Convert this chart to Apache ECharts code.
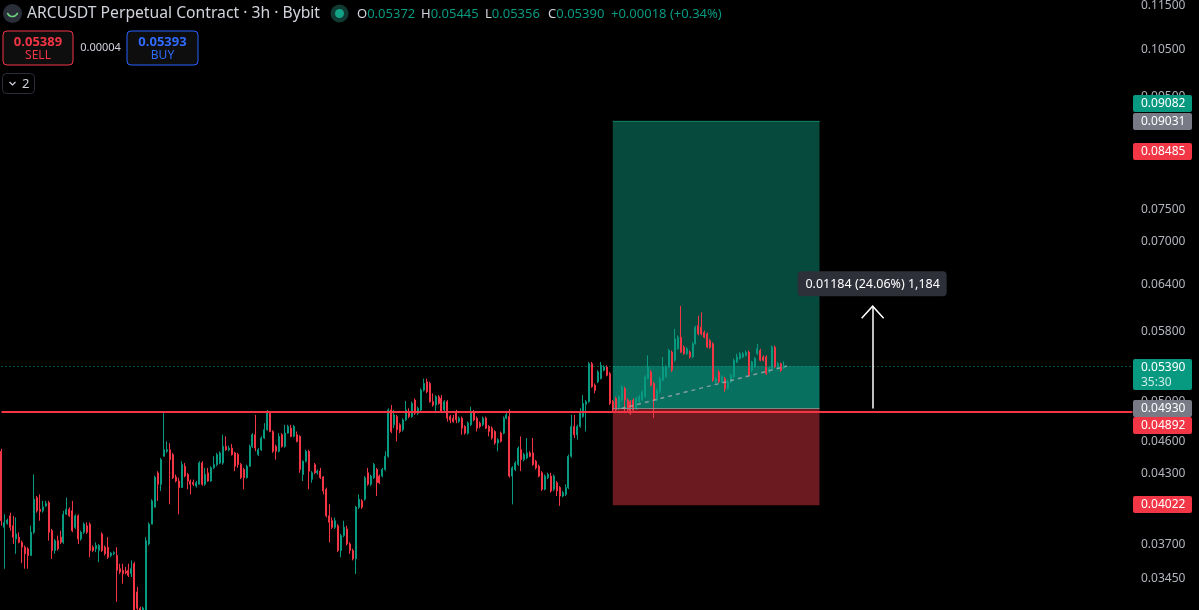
<!DOCTYPE html>
<html>
<head>
<meta charset="utf-8">
<script src="https://cdn.jsdelivr.net/npm/echarts@6/dist/echarts.min.js"></script>
<style>
html,body{margin:0;padding:0;background:#000;}
#main{width:1199px;height:610px;}
</style>
</head>
<body>
<div id="main"></div>
<script>
// ---- data (3h candles, ARCUSDT) ----
const openP = [
.04505,.03839,.03872,.03933,.03852,.03747,.03760,.03720,.03682,.03669,
.03618,.03799,.04087,.03988,.03975,.04016,.04044,.03812,.03656,.03733,
.03760,.03720,.03946,.03988,.03975,.03839,.03933,.03746,.03799,.03852,
.03865,.03682,.03669,.03656,.03786,.03682,.03682,.03618,.03631,.03618,
.03519,.03507,.03500,.03507,.03482,.03556,.03351,.03237,.03215,.03226,
.03707,.03865,.04005,.04305,.04203,.04458,.04505,.04520,.04474,.04268,
.04232,.04174,.04366,.04291,.04232,.04220,.04188,.04203,.04396,.04203,
.04305,.04232,.04351,.04381,.04396,.04396,.04552,.04520,.04536,.04490,
.04474,.04381,.04336,.04262,.04366,.04552,.04665,.04474,.04520,.04633,
.04714,.04881,.04697,.04552,.04505,.04665,.04552,.04681,.04730,.04649,
.04665,.04649,.04291,.04412,.04505,.04247,.04381,.04306,.04321,.04268,
.04159,.03933,.03893,.03839,.03852,.03656,.03773,.03826,.03707,.03656,
.03592,.04005,.04059,.04073,.04306,.04203,.04262,.04336,.04276,.04276,
.04336,.04458,.04915,.04764,.04847,.04764,.04714,.04813,.04898,.04847,
.05018,.04881,.04915,.05124,.05214,.05196,.05001,.04966,.05053,.05036,
.04915,.05001,.04847,.04830,.04898,.04796,.04830,.04747,.04681,.04764,
.04898,.04830,.04780,.04764,.04830,.04747,.04730,.04697,.04584,.04681,
.04681,.04830,.04847,.04276,.04336,.04381,.04520,.04427,.04443,.04490,
.04490,.04412,.04366,.04306,.04159,.04262,.04276,.04159,.04217,.04174,
.04101,.04115,.04174,.04458,.04747,.04665,.04747,.04847,.04974,.05001,
.05418,.05178,.05214,.05250,.05343,.05380,.05305,.05001,.05036,.04932,
.05018,.05142,.05018,.05001,.05018,.04932,.05001,.05018,.05053,.05250,
.05324,.05196,.05018,.05106,.05232,.05269,.05380,.05551,.05456,.05590,
.05728,.05609,.05532,.05551,.05494,.05648,.05869,.05849,.05788,.05768,
.05688,.05648,.05214,.05324,.05214,.05250,.05142,.05214,.05269,.05437,
.05475,.05494,.05513,.05551,.05343,.05380,.05532,.05570,.05494,.05494,
.05324,.05361,.05609,.05361,.05418,.05372
];
const closeP = [
.03893,.03879,.03898,.03839,.03760,.03786,.03720,.03682,.03631,.03618,
.03799,.04073,.03975,.03970,.04008,.04036,.03799,.03656,.03733,.03669,
.03720,.03946,.03988,.03933,.03812,.03933,.03746,.03799,.03865,.03799,
.03656,.03656,.03695,.03695,.03656,.03631,.03605,.03636,.03640,.03507,
.03495,.03482,.03488,.03470,.03519,.03226,.03237,.03215,.03240,.03733,
.03865,.04059,.04265,.04203,.04427,.04520,.04520,.04427,.04262,.04232,
.04174,.04381,.04276,.04232,.04203,.04203,.04217,.04396,.04203,.04291,
.04232,.04351,.04381,.04474,.04490,.04552,.04520,.04536,.04474,.04366,
.04381,.04262,.04262,.04366,.04552,.04665,.04536,.04520,.04633,.04714,
.04898,.04697,.04505,.04505,.04649,.04552,.04681,.04747,.04649,.04747,
.04600,.04336,.04412,.04505,.04321,.04306,.04306,.04321,.04262,.04144,
.03933,.03880,.03839,.03893,.03656,.03773,.03839,.03707,.03656,.03592,
.04005,.04073,.04005,.04262,.04203,.04276,.04381,.04217,.04217,.04336,
.04458,.04915,.04697,.04864,.04714,.04697,.04813,.04915,.04847,.04983,
.04881,.04932,.05124,.05196,.05106,.05001,.04966,.05053,.04983,.04898,
.05001,.04830,.04813,.04796,.04813,.04830,.04730,.04681,.04780,.04898,
.04813,.04730,.04747,.04830,.04730,.04697,.04633,.04584,.04617,.04600,
.04830,.04864,.04276,.04351,.04396,.04536,.04427,.04474,.04490,.04458,
.04381,.04351,.04276,.04159,.04276,.04291,.04144,.04276,.04144,.04101,
.04130,.04174,.04458,.04747,.04665,.04747,.04898,.04983,.05001,.05418,
.05160,.05124,.05324,.05399,.05380,.05287,.04983,.04915,.04915,.05053,
.05160,.05018,.04915,.04881,.04915,.05036,.05053,.05106,.05269,.05380,
.05178,.05018,.05124,.05250,.05380,.05380,.05570,.05343,.05708,.05728,
.05551,.05532,.05590,.05494,.05648,.05849,.05768,.05768,.05728,.05609,
.05609,.05232,.05250,.05214,.05269,.05142,.05214,.05287,.05456,.05494,
.05532,.05532,.05551,.05287,.05437,.05475,.05590,.05456,.05456,.05305,
.05361,.05609,.05380,.05418,.05343,.05390
];
const lowP = [
.03852,.03519,.03860,.03812,.03707,.03631,.03712,.03560,.03519,.03519,
.03618,.03786,.03960,.03893,.03960,.04008,.03733,.03592,.03631,.03656,
.03707,.03708,.03940,.03925,.03800,.03826,.03707,.03733,.03786,.03786,
.03605,.03645,.03644,.03568,.03645,.03618,.03592,.03605,.03620,.03282,
.03480,.03410,.03478,.03458,.03458,.03180,.03180,.03170,.03180,.03180,
.03695,.03865,.04005,.04059,.04144,.04458,.04490,.04030,.04250,.04220,
.03946,.04174,.04265,.04159,.04115,.04188,.04174,.04203,.04190,.04190,
.04225,.04225,.04340,.04366,.04385,.04381,.04510,.04505,.04465,.04321,
.04351,.04250,.04159,.04255,.04360,.04536,.04505,.04460,.04510,.04625,
.04705,.04690,.04490,.04427,.04495,.04540,.04540,.04675,.04640,.04640,
.04590,.04306,.04232,.04400,.04159,.04217,.04296,.04290,.04250,.04115,
.03920,.03720,.03826,.03826,.03645,.03605,.03760,.03695,.03631,.03581,
.03480,.03990,.03990,.04060,.04190,.04188,.04250,.04101,.04205,.04265,
.04325,.04445,.04680,.04730,.04600,.04680,.04697,.04800,.04830,.04835,
.04864,.04864,.04898,.05110,.05090,.04990,.04949,.04881,.04970,.04890,
.04898,.04796,.04780,.04785,.04780,.04785,.04665,.04665,.04665,.04750,
.04800,.04697,.04730,.04750,.04720,.04649,.04617,.04568,.04505,.04590,
.04670,.04820,.04262,.04029,.04321,.04370,.04321,.04412,.04430,.04450,
.04370,.04336,.04265,.04144,.04150,.04250,.04130,.04144,.04101,.04016,
.04090,.04100,.04160,.04445,.04633,.04617,.04735,.04835,.04697,.04990,
.05150,.05089,.05200,.05240,.05330,.05275,.04966,.04900,.04881,.04915,
.05001,.04881,.04898,.04864,.04898,.04915,.04990,.05005,.05040,.05240,
.05165,.04830,.05005,.05088,.05220,.05260,.05370,.05324,.05440,.05580,
.05540,.05520,.05520,.05475,.05480,.05640,.05750,.05750,.05715,.05598,
.05590,.05214,.05196,.05200,.05200,.05106,.05130,.05200,.05260,.05425,
.05465,.05480,.05500,.05275,.05324,.05370,.05520,.05445,.05445,.05290,
.05310,.05350,.05370,.05350,.05324,.05356
];
const highP = [
.04529,.03946,.03910,.03960,.03933,.03920,.03799,.03733,.03695,.03682,
.03852,.04292,.04101,.04115,.04059,.04059,.04059,.03826,.03746,.03773,
.03812,.03975,.04087,.04002,.04059,.03946,.03946,.03812,.03879,.03879,
.03879,.03695,.03720,.03707,.03799,.03695,.03760,.03644,.03650,.03682,
.03556,.03556,.03532,.03556,.03581,.03570,.03387,.03248,.03250,.03760,
.03879,.04073,.04280,.04320,.04443,.04885,.04600,.04583,.04490,.04290,
.04262,.04412,.04396,.04305,.04245,.04245,.04232,.04412,.04412,.04351,
.04351,.04366,.04458,.04490,.04505,.04665,.04649,.04560,.04575,.04500,
.04490,.04396,.04351,.04381,.04568,.04681,.04864,.04536,.04649,.04780,
.04915,.04898,.04710,.04568,.04681,.04681,.04763,.04763,.04763,.04763,
.04697,.04660,.04420,.04520,.04520,.04321,.04396,.04336,.04351,.04276,
.04174,.04030,.03920,.03920,.03865,.03786,.03893,.03852,.03720,.03670,
.04016,.04115,.04073,.04276,.04351,.04290,.04396,.04351,.04290,.04351,
.04505,.04932,.04966,.04915,.04864,.04780,.04830,.05008,.04932,.05001,
.05035,.04949,.05142,.05250,.05250,.05215,.05089,.05070,.05071,.05071,
.05018,.05018,.04864,.04864,.04915,.04847,.04847,.04760,.04796,.04949,
.04915,.04847,.04796,.04847,.04847,.04760,.04747,.04710,.04630,.04697,
.04847,.04898,.04923,.04366,.04412,.04552,.04649,.04490,.04633,.04505,
.04633,.04425,.04381,.04321,.04290,.04306,.04306,.04291,.04232,.04188,
.04144,.04203,.04474,.04864,.04864,.04764,.04932,.05071,.05018,.05437,
.05437,.05196,.05343,.05437,.05399,.05399,.05324,.05018,.05053,.05071,
.05178,.05160,.05036,.05018,.05036,.05053,.05071,.05124,.05287,.05513,
.05343,.05214,.05142,.05269,.05494,.05399,.05590,.05570,.05829,.05748,
.06119,.05629,.05609,.05570,.05668,.05869,.05993,.06035,.05808,.05788,
.05708,.05668,.05269,.05343,.05287,.05269,.05232,.05305,.05475,.05532,
.05551,.05551,.05570,.05570,.05450,.05494,.05648,.05590,.05513,.05513,
.05380,.05629,.05629,.05437,.05430,.05445
];
// price scale tick labels
const yTicks = [0.115, 0.105, 0.095, 0.085, 0.075, 0.070, 0.064, 0.058, 0.050, 0.046, 0.043, 0.037, 0.0345, 0.032];
// position tool levels
const targetPrice = 0.09031, targetLabel = 0.09082, stopLabelHi = 0.08485;
const entryPrice = 0.04930, linePrice = 0.04892, stopPrice = 0.04022, lastPrice = 0.05390;
const measureTop = 0.06114;
// axis range
const yMin = 0.03226, yMax = 0.11524;
const SLOTS = 384;

const FONT = '"Noto Sans", "Liberation Sans", sans-serif';
const UP = '#089981', DOWN = '#f23645';
const n = Math.min(openP.length, closeP.length, lowP.length, highP.length);
const cats = Array.from({length: SLOTS}, (_, i) => String(i));
const kData = [];
for (let i = 0; i < n; i++) kData.push([openP[i], closeP[i], lowP[i], highP[i]]);

const boxL = '207', boxR = '277', arrowX = '295';

const chart = echarts.init(document.getElementById('main'));
chart.setOption({
  backgroundColor: '#000000',
  animation: false,
  grid: {left: 0, right: 65, top: 0, bottom: 0},
  xAxis: {type: 'category', data: cats, boundaryGap: true, show: false},
  yAxis: {
    type: 'log', logBase: 10, min: yMin, max: yMax, position: 'right',
    axisLine: {show: false}, axisTick: {show: false}, splitLine: {show: false},
    axisLabel: {customValues: yTicks, formatter: v => Number(v).toFixed(5), color: '#b2b5be', fontSize: 12, fontFamily: FONT, margin: 7}
  },
  series: [
    {
      type: 'line', data: [], z: 1, silent: true,
      markArea: {
        silent: true,
        data: [
          [{xAxis: boxL, yAxis: lastPrice, itemStyle: {color: '#054a3c'}}, {xAxis: boxR, yAxis: targetPrice}],
          [{xAxis: boxL, yAxis: entryPrice, itemStyle: {color: '#07705f'}}, {xAxis: boxR, yAxis: lastPrice}],
          [{xAxis: boxL, yAxis: stopPrice, itemStyle: {color: '#6b1a20'}}, {xAxis: boxR, yAxis: entryPrice}]
        ]
      },
      markLine: {
        silent: true, symbol: ['none', 'none'], label: {show: false},
        data: [
          [{coord: ['0', lastPrice], lineStyle: {color: UP, width: 1, type: [1, 3]}}, {coord: [String(SLOTS - 1), lastPrice]}],
          [{coord: [boxL, targetPrice], lineStyle: {color: '#0d7a62', width: 1, type: 'solid'}}, {coord: [boxR, targetPrice]}],
          [{coord: [boxL, entryPrice], lineStyle: {color: '#7d8a86', width: 1, type: 'solid'}}, {coord: [boxR, entryPrice]}],
          [{coord: ['210', entryPrice], lineStyle: {color: 'rgba(170,175,180,0.75)', width: 1.5, type: [4, 4]}}, {coord: ['266', lastPrice]}]
        ]
      }
    },
    {
      type: 'candlestick', z: 3, data: kData, barWidth: 1.5,
      itemStyle: {color: UP, color0: DOWN, borderColor: UP, borderColor0: DOWN, borderWidth: 1}
    },
    {
      type: 'line', data: [], z: 5, silent: true,
      markLine: {
        silent: true, symbol: ['none', 'none'], label: {show: false},
        data: [
          [{coord: ['0', linePrice], lineStyle: {color: DOWN, width: 2, type: 'solid'}}, {coord: [String(SLOTS - 1), linePrice]}],
          [{coord: [arrowX, entryPrice], lineStyle: {color: '#ffffff', width: 1.5, type: 'solid'}}, {coord: [arrowX, measureTop]}]
        ]
      }
    }
  ]
});

const px = v => chart.convertToPixel({xAxisIndex: 0}, v);
const py = v => chart.convertToPixel({yAxisIndex: 0}, v);
const g = [];
function txt(x, y, s, color, size, opts) {
  g.push(Object.assign({type: 'text', x: x, y: y, z: 100, style: Object.assign({text: s, fill: color, fontSize: size, fontFamily: FONT, verticalAlign: 'middle', align: 'left'}, opts || {})}));
}
function badge(cy, s, color) {
  g.push({type: 'rect', z: 90, shape: {x: 1133, y: Math.round(cy - 8.5), width: 59, height: 17, r: 2}, style: {fill: color}});
  txt(1141, cy, s, '#ffffff', 12);
}
// right price badges
const grayY = py(targetPrice) + 1;
badge(grayY - 18, targetLabel.toFixed(5), UP);
badge(grayY, targetPrice.toFixed(5), '#787b86');
badge(py(stopLabelHi) + 1, stopLabelHi.toFixed(5), DOWN);
const lp = py(lastPrice);
g.push({type: 'rect', z: 90, shape: {x: 1133, y: Math.round(lp - 7.5), width: 59, height: 31, r: 2}, style: {fill: UP}});
txt(1141, lp + 1, lastPrice.toFixed(5), '#ffffff', 12);
txt(1141, lp + 16, '35:30', 'rgba(255,255,255,0.8)', 12);
const ey = py(entryPrice);
badge(ey, entryPrice.toFixed(5), '#787b86');
badge(ey + 17.5, linePrice.toFixed(5), DOWN);
badge(py(stopPrice) - 1, stopPrice.toFixed(5), DOWN);

// measurement arrow head and label
const ax = px(arrowX), tip = py(measureTop);
g.push({type: 'polyline', z: 60, shape: {points: [[ax - 11, tip + 12], [ax, tip], [ax + 11, tip + 12]]}, style: {stroke: '#ffffff', lineWidth: 1.5, fill: null}});
g.push({type: 'rect', z: 60, shape: {x: ax - 75, y: tip - 35, width: 149, height: 25, r: 4}, style: {fill: '#2e3039'}});
txt(ax, tip - 22, '0.01184 (24.06%) 1,184', '#ffffff', 12.5, {align: 'center'});

// header
g.push({type: 'circle', z: 100, shape: {cx: 12.5, cy: 13.5, r: 9.5}, style: {fill: '#2a2e39'}});
g.push({type: 'arc', z: 101, shape: {cx: 12.5, cy: 11, r: 5.5, startAngle: 0.35, endAngle: Math.PI - 0.35, clockwise: true}, style: {stroke: '#6fd17a', lineWidth: 1.6, fill: null}});
txt(27, 14, 'ARCUSDT Perpetual Contract · 3h · Bybit', '#d1d4dc', 15.7);
g.push({type: 'circle', z: 100, shape: {cx: 339.5, cy: 13.5, r: 9}, style: {fill: '#103a32'}});
g.push({type: 'circle', z: 101, shape: {cx: 339.5, cy: 13.5, r: 4.5}, style: {fill: '#12a386'}});
const ohlc = [['O', '0.05372', 357], ['H', '0.05445', 421], ['L', '0.05356', 485], ['C', '0.05390', 548]];
ohlc.forEach(o => {
  g.push({type: 'text', x: o[2], y: 14, z: 100, style: {text: '{l|' + o[0] + '}{v|' + o[1] + '}', verticalAlign: 'middle', fontFamily: FONT, fontSize: 13,
    rich: {l: {fill: '#d1d4dc', fontSize: 13, fontFamily: FONT}, v: {fill: UP, fontSize: 13, fontFamily: FONT}}}});
});
txt(611, 14, '+0.00018 (+0.34%)', UP, 13);

// sell / buy
g.push({type: 'rect', z: 100, shape: {x: 3, y: 31, width: 70, height: 34, r: 4}, style: {fill: '#0e0e0e', stroke: DOWN, lineWidth: 1}});
txt(38, 42, '0.05389', DOWN, 13, {align: 'center', fontWeight: 'bold'});
txt(38, 56, 'SELL', DOWN, 12, {align: 'center'});
txt(100.5, 48, '0.00004', '#d1d4dc', 11, {align: 'center'});
g.push({type: 'rect', z: 100, shape: {x: 127, y: 31, width: 71, height: 34, r: 4}, style: {fill: '#0e0e0e', stroke: '#2962ff', lineWidth: 1}});
txt(162.5, 42, '0.05393', '#2f6bff', 13, {align: 'center', fontWeight: 'bold'});
txt(162.5, 56, 'BUY', '#2f6bff', 12, {align: 'center'});
// collapse button
g.push({type: 'rect', z: 100, shape: {x: 2.5, y: 73.5, width: 32, height: 20, r: 4}, style: {fill: null, stroke: '#2a2e39', lineWidth: 1}});
g.push({type: 'polyline', z: 100, shape: {points: [[9.5, 82], [12.5, 85], [15.5, 82]]}, style: {stroke: '#d1d4dc', lineWidth: 1.2, fill: null}});
txt(22, 84, '2', '#d1d4dc', 13);

chart.setOption({graphic: {elements: g}});
</script>
</body>
</html>
